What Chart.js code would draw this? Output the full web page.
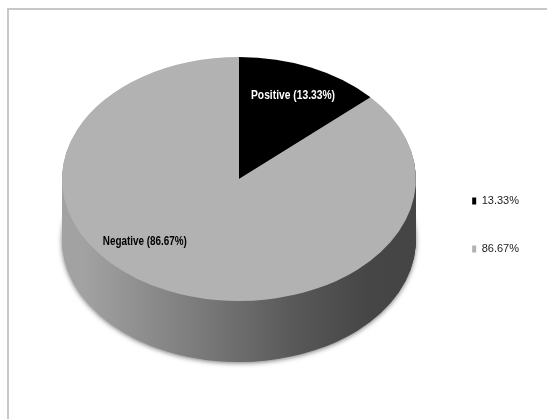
<!DOCTYPE html>
<html>
<head>
<meta charset="utf-8">
<script src="https://cdn.jsdelivr.net/npm/chart.js@4.4.1/dist/chart.umd.min.js"></script>
<style>
  html, body { margin: 0; padding: 0; background: #fff; }
  #wrap { position: relative; width: 547px; height: 419px; }
</style>
</head>
<body>
<div id="wrap"><canvas id="pieChart" width="547" height="419"></canvas></div>
<script>
const categories = ["Positive", "Negative"];
const shares = [13.33, 86.67];
const legendLabels = ["13.33%", "86.67%"];
const sliceColors = ["#000000", "#b2b2b2"];

// 3D look: squash the pie into an ellipse and stack the side below it
const tilt = { x: 239, y: 179, ratio: 122 / 177, depth: 61 };

function squash(ctx, arc, dy) {
  ctx.translate(tilt.x, tilt.y + dy);
  ctx.scale(1, tilt.ratio);
  ctx.translate(-arc.x, -arc.y);
}

const framePlugin = {
  id: "frame",
  beforeDraw(chart) {
    const ctx = chart.ctx;
    ctx.save();
    ctx.strokeStyle = "#c8c8c8";
    ctx.lineWidth = 2;
    ctx.strokeRect(8, 9, 700, 600);
    ctx.restore();
  }
};

const pie3dPlugin = {
  id: "pie3d",
  beforeDatasetsDraw(chart) {
    const ctx = chart.ctx;
    const arcs = chart.getDatasetMeta(0).data;
    const r = arcs[0].outerRadius;
    const grad = ctx.createLinearGradient(tilt.x - r, 0, tilt.x + r, 0);
    grad.addColorStop(0, "#a2a2a2");
    grad.addColorStop(0.3, "#7e7e7e");
    grad.addColorStop(0.6, "#585858");
    grad.addColorStop(0.8, "#464646");
    grad.addColorStop(1, "#444444");

    for (let d = tilt.depth; d >= 1; d--) {
      arcs.forEach(arc => {
        ctx.save();
        if (d === tilt.depth) {
          ctx.shadowColor = "rgba(0,0,0,0.55)";
          ctx.shadowBlur = 5;
          ctx.shadowOffsetY = 1;
        }
        squash(ctx, arc, d);
        const keep = arc.options.backgroundColor;
        arc.options.backgroundColor = grad;
        arc.draw(ctx);
        arc.options.backgroundColor = keep;
        ctx.restore();
      });
    }
    ctx.save();
    squash(ctx, arcs[0], 0);
  },
  afterDatasetsDraw(chart) {
    const ctx = chart.ctx;
    ctx.restore();
    const arcs = chart.getDatasetMeta(0).data;
    // label anchors: angle from 12 o'clock (deg) and fraction of radius
    const anchors = [{ angle: 24, frac: 0.75 }, { angle: 226, frac: 0.74 }];
    ctx.save();
    ctx.font = "bold 13px 'Liberation Sans', Arial, sans-serif";
    ctx.textAlign = "center";
    ctx.textBaseline = "middle";
    arcs.forEach((arc, i) => {
      const a = anchors[i].angle * Math.PI / 180;
      const rr = arc.outerRadius * anchors[i].frac;
      const x = tilt.x + Math.sin(a) * rr;
      const y = tilt.y - Math.cos(a) * rr * tilt.ratio;
      ctx.fillStyle = i === 0 ? "#ffffff" : "#000000";
      // squeeze to mimic the narrow Calibri face
      ctx.fillText(categories[i] + " (" + shares[i].toFixed(2) + "%)", x, y, 84);
    });
    ctx.restore();
  }
};

new Chart(document.getElementById("pieChart"), {
  type: "pie",
  data: {
    labels: legendLabels,
    datasets: [{
      data: shares,
      backgroundColor: sliceColors,
      borderWidth: 0,
      radius: 177,
      clip: false
    }]
  },
  options: {
    responsive: false,
    animation: false,
    events: [],
    layout: { padding: { top: 31, right: 18, bottom: 0, left: 0 } },
    plugins: {
      tooltip: { enabled: false },
      legend: {
        position: "right",
        labels: {
          boxWidth: 4,
          boxHeight: 7,
          padding: 37,
          color: "#222",
          font: { family: "'Liberation Sans', Arial, sans-serif", size: 11 }
        }
      }
    }
  },
  plugins: [framePlugin, pie3dPlugin]
});
</script>
</body>
</html>
